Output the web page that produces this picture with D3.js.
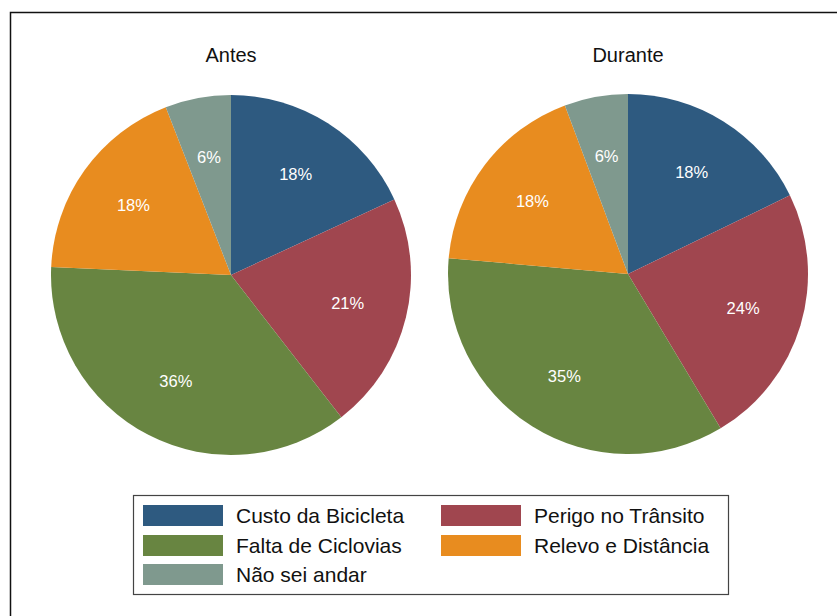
<!DOCTYPE html>
<html>
<head>
<meta charset="utf-8">
<script src="https://cdn.jsdelivr.net/npm/d3@7"></script>
<style>
  body { margin: 0; background: #fff; }
  svg { display: block; font-family: "Liberation Sans", Arial, sans-serif; }
</style>
</head>
<body>
<div id="chart"></div>
<script>
// categories in drawing order (clockwise from 12 o'clock)
const categories = ['Custo da Bicicleta', 'Perigo no Trânsito', 'Falta de Ciclovias', 'Relevo e Distância', 'Não sei andar']
const colors = ['#2e5a80', '#a0464f', '#688541', '#e88c1f', '#7f998e']
const panelTitles = ['Antes', 'Durante']
const antesValues = [18.1, 21.4, 36.2, 18.4, 5.9]
const duranteValues = [17.8, 23.6, 35.0, 17.9, 5.7]
// legend layout: [column, row] for each category
const legendOrder = [[0, 0], [1, 0], [0, 1], [1, 1], [0, 2]]

const width = 837
const height = 616

const svg = d3.select('#chart')
    .append('svg')
    .attr('width', width)
    .attr('height', height)

/* outer frame */
svg.append('rect')
    .attr('x', 10.5)
    .attr('y', 12.5)
    .attr('width', 900)
    .attr('height', 700)
    .attr('fill', '#fff')
    .attr('stroke', '#111')
    .attr('stroke-width', 1.5)

const radius = 180
const centers = [[231, 275], [628, 274]]

const pie = d3.pie().sort(null).value(d => d)
const arc = d3.arc().innerRadius(0).outerRadius(radius)
const labelArc = d3.arc().innerRadius(radius * 0.667).outerRadius(radius * 0.667)

const colorScale = d3.scaleOrdinal().domain(categories).range(colors)

;[antesValues, duranteValues].forEach((values, p) => {
    const total = d3.sum(values)
    const g = svg.append('g')
        .attr('transform', `translate(${centers[p][0]},${centers[p][1]})`)

    const slices = pie(values)

    g.selectAll('path')
        .data(slices)
        .enter()
        .append('path')
        .attr('d', arc)
        .attr('fill', (d, i) => colorScale(categories[i]))

    g.selectAll('text.pct')
        .data(slices)
        .enter()
        .append('text')
        .attr('class', 'pct')
        .attr('transform', d => `translate(${labelArc.centroid(d)})`)
        .attr('text-anchor', 'middle')
        .attr('dy', '0.35em')
        .attr('fill', '#fff')
        .style('font-size', '16.5px')
        .text(d => Math.round(d.value / total * 100) + '%')

    /* panel title */
    svg.append('text')
        .text(panelTitles[p])
        .attr('x', centers[p][0])
        .attr('y', 62)
        .attr('text-anchor', 'middle')
        .attr('fill', '#111')
        .style('font-size', '20px')
})

/* legend */
svg.append('rect')
    .attr('x', 133.5)
    .attr('y', 495.5)
    .attr('width', 595)
    .attr('height', 99)
    .attr('fill', '#fff')
    .attr('stroke', '#444')
    .attr('stroke-width', 1.2)

const colX = [143, 441]
const rowY = [505, 535, 564]

categories.forEach((c, i) => {
    const [col, row] = legendOrder[i]
    svg.append('rect')
        .attr('x', colX[col])
        .attr('y', rowY[row])
        .attr('width', 80)
        .attr('height', 21)
        .attr('fill', colorScale(c))
    svg.append('text')
        .text(c)
        .attr('x', colX[col] + 93)
        .attr('y', rowY[row] + 11)
        .attr('dy', '0.35em')
        .attr('fill', '#111')
        .style('font-size', '21px')
})
</script>
</body>
</html>
